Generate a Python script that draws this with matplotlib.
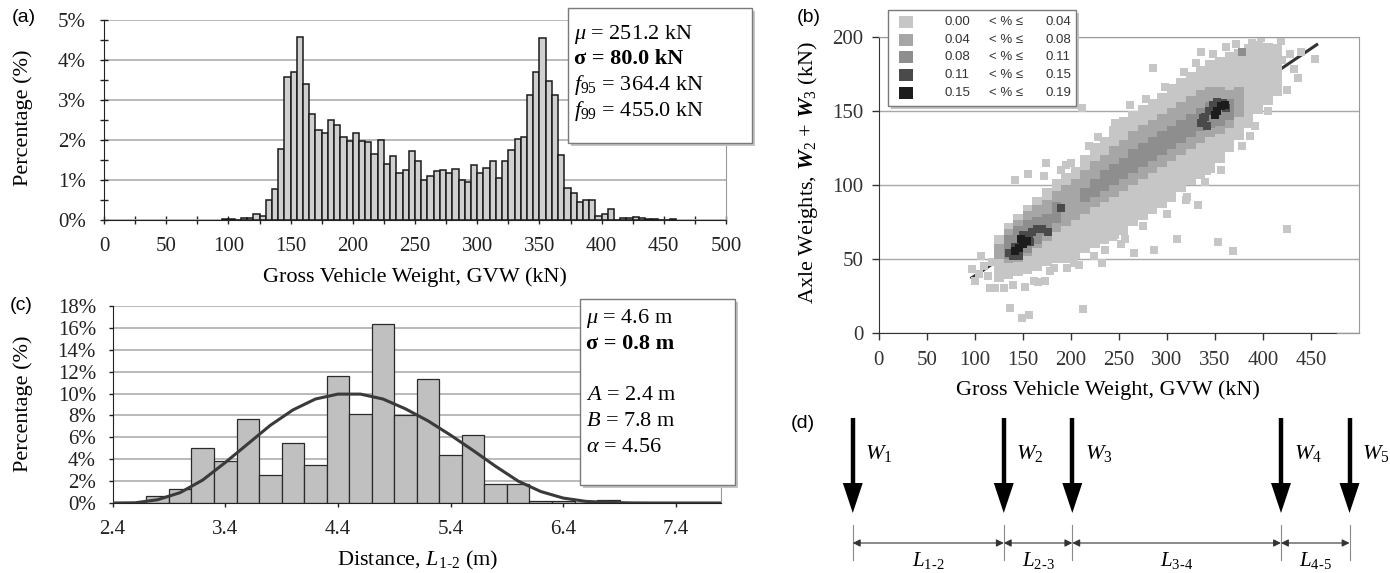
import numpy as np
import matplotlib
matplotlib.use("Agg")
import matplotlib.pyplot as plt
from matplotlib.patches import Rectangle, Polygon
from matplotlib.ticker import MultipleLocator, FuncFormatter

plt.rcParams['font.family'] = ['Liberation Serif', 'DejaVu Serif']
plt.rcParams['mathtext.fontset'] = 'custom'
plt.rcParams['mathtext.rm'] = 'Liberation Serif'
plt.rcParams['mathtext.it'] = 'Liberation Serif:italic'
plt.rcParams['mathtext.bf'] = 'Liberation Serif:bold'
plt.rcParams['mathtext.bfit'] = 'Liberation Serif:bold:italic'

# ---- (a) GVW histogram, 5 kN bins (left edges), % of trucks
gvw_left = list(range(95, 460, 5))
gvw_pct = [0.02, 0.02, 0.0, 0.04, 0.04, 0.14, 0.11, 0.50, 0.78, 1.78,
           3.58, 3.71, 4.57, 3.41, 2.66, 2.25, 2.18, 2.51, 2.37, 2.08,
           1.97, 2.18, 1.98, 1.96, 1.64, 2.01, 1.41, 1.61, 1.17, 1.26,
           1.73, 1.48, 1.00, 1.10, 1.22, 1.24, 1.17, 1.27, 1.00, 0.96,
           1.38, 1.18, 1.31, 1.48, 1.05, 1.48, 1.76, 2.03, 2.08, 3.13,
           3.71, 4.55, 3.47, 3.12, 1.62, 0.80, 0.68, 0.45, 0.51, 0.51,
           0.11, 0.15, 0.27, 0.0, 0.04, 0.06, 0.08, 0.06, 0.025, 0.025,
           0.0, 0.0, 0.015]
gvw_stats = [r'$\mathit{μ}$ = 251.2 kN', 'σ = 80.0 kN',
             r'$\mathit{f}_{\mathit{95}}$ = 364.4 kN', r'$\mathit{f}_{\mathit{99}}$ = 455.0 kN']

# ---- (c) axle spacing L1-2 histogram, 0.2 m bins (centres)
l12_mid = [2.8, 3.0, 3.2, 3.4, 3.6, 3.8, 4.0, 4.2, 4.4, 4.6, 4.8, 5.0,
           5.2, 5.4, 5.6, 5.8, 6.0, 6.2, 6.4, 6.6, 6.8]
l12_pct = [0.6, 1.3, 5.0, 3.85, 7.7, 2.6, 5.5, 3.45, 11.6, 8.1, 16.4, 8.0,
           11.3, 4.4, 6.2, 1.7, 1.7, 0.2, 0.2, 0.0, 0.25]
fit_x = [2.4, 2.6, 2.8, 3.0, 3.2, 3.4, 3.6, 3.8, 4.0, 4.2, 4.4, 4.6, 4.8,
         5.0, 5.2, 5.4, 5.6, 5.8, 6.0, 6.2, 6.4, 6.6, 6.8, 7.0, 7.2, 7.4, 7.6, 7.8]
fit_y = [0.0, 0.02, 0.3, 0.95, 2.1, 3.7, 5.4, 7.1, 8.5, 9.5, 9.95, 9.95, 9.5,
         8.6, 7.5, 6.2, 4.8, 3.35, 2.0, 1.05, 0.45, 0.15, 0.05, 0.01, 0.0, 0.0, 0.0, 0.0]
l12_stats = [r'$\mathit{μ}$ = 4.6 m', 'σ = 0.8 m', '', r'$\mathit{A}$ = 2.4 m',
             r'$\mathit{B}$ = 7.8 m', r'$\mathit{α}$ = 4.56']

# ---- (b) GVW vs W2+W3 density map
band_x = list(range(125, 420, 10))
light_lo = [34, 36, 38, 40, 42, 45, 47, 47, 50, 54, 57, 60, 63, 66, 72,
            76, 80, 84, 88, 95, 100, 104, 108, 115, 122, 130, 138, 148, 154, 160]
light_hi = [66, 74, 80, 86, 92, 98, 104, 108, 112, 120, 128, 132, 140, 146, 150,
            154, 158, 162, 168, 172, 176, 180, 184, 186, 190, 192, 195, 197, 196, 195]
mid1_x = list(range(125, 380, 10))
mid1_lo = [50, 47, 48, 52, 57, 62, 68, 72, 76, 80, 85, 88, 92, 96, 100, 104, 108,
           112, 116, 120, 124, 128, 132, 134, 138, 146]
mid1_hi = [60, 70, 76, 82, 86, 90, 96, 100, 104, 110, 116, 120, 126, 130, 136, 140, 144,
           148, 152, 156, 160, 164, 166, 166, 164, 166]
mid2_x = list(range(135, 370, 10))
mid2_lo = [50, 50, 54, 60, 66, 74, np.nan, np.nan, 88, 92, 96, 100, 104, 108, 112, 116,
           120, 124, 128, 132, 136, 138, 140, 144]
mid2_hi = [66, 72, 76, 78, 80, 88, np.nan, np.nan, 98, 104, 110, 114, 118, 124, 128, 132,
           136, 140, 144, 148, 152, 156, 158, 158]
dark_gvw = [136, 140, 144, 148, 152, 156, 160, 165, 170, 176, 142, 150, 158, 146, 190,
            336, 340, 344, 348, 352, 358, 362, 342, 338]
dark_axle = [54, 52, 56, 60, 63, 66, 68, 70, 70, 68, 58, 66, 61, 52, 84,
             142, 146, 150, 154, 156, 155, 152, 140, 145]
black_gvw = [142, 146, 150, 154, 148, 352, 356, 360, 350]
black_axle = [55, 57, 60, 62, 63, 150, 153, 154, 147]
out_gvw = [97, 100, 107, 116, 121, 137, 149, 156, 142, 155, 174, 172, 195, 212, 213,
           219, 232, 244, 256, 266, 287, 311, 332, 353, 369, 425, 286, 335, 389, 419,
           454, 436, 425, 407, 342, 321, 301, 285, 360, 387, 166, 173, 182, 196, 203,
           224, 152, 162, 110, 104, 118, 114, 130, 140, 178, 208, 236, 252, 275, 300,
           320, 340, 356, 378, 392, 405, 190, 200, 228, 246, 262, 278, 298, 318, 330,
           348, 362, 372, 398, 412, 428, 432, 420, 440, 415]
out_axle = [43, 35, 52, 30, 30, 17, 10, 12, 103, 107, 115, 106, 113, 152, 16,
            126, 47, 65, 63, 54, 56, 63, 86, 61, 55, 70, 179, 190, 196, 197,
            185, 172, 164, 171, 109, 92, 98, 108, 126, 133, 34, 35, 44, 44, 47,
            52, 31, 35, 45, 40, 48, 38, 30, 32, 42, 46, 56, 60, 72, 80,
            90, 102, 110, 126, 140, 150, 110, 115, 132, 142, 154, 158, 166, 176, 182,
            188, 193, 195, 199, 190, 188, 178, 184, 190, 176]
trend_gvw = [97, 456]
trend_axle = [37.1, 194.6]
shade = ['#c6c6c6', '#a6a6a6', '#8e8e8e', '#4a4a4a', '#1c1c1c']
shade_lo = ['0.00', '0.04', '0.08', '0.11', '0.15']
shade_hi = ['0.04', '0.08', '0.11', '0.15', '0.19']

# ---- (d) axle layout (schematic positions)
axle_pos = [0.0, 5.0, 7.27, 14.18, 16.45]
axle_lab = [r'$\mathit{W}_{\mathit{1}}$', r'$\mathit{W}_{\mathit{2}}$', r'$\mathit{W}_{\mathit{3}}$',
            r'$\mathit{W}_{\mathit{4}}$', r'$\mathit{W}_{\mathit{5}}$']
span_lab = [r'$\mathit{L}_{\mathit{1‐2}}$', r'$\mathit{L}_{\mathit{2‐3}}$',
            r'$\mathit{L}_{\mathit{3‐4}}$', r'$\mathit{L}_{\mathit{4‐5}}$']

W, H = 1390, 573
fig = plt.figure(figsize=(W / 100, H / 100), dpi=100)


def fx(x):
    return x / W


def fy(y):
    return 1 - y / H


def rect(x0, y0, x1, y1):
    return [fx(x0), fy(y1), (x1 - x0) / W, (y1 - y0) / H]


def stat_box(x0, y0, x1, y1):
    fig.add_artist(Rectangle((fx(x0 + 3), fy(y1 + 3)), (x1 - x0) / W, (y1 - y0) / H,
                             transform=fig.transFigure, fc='#c4c4c4', ec='none', zorder=9))
    fig.add_artist(Rectangle((fx(x0), fy(y1)), (x1 - x0) / W, (y1 - y0) / H,
                             transform=fig.transFigure, fc='white', ec='#7a7a7a', lw=1, zorder=10))


pct_fmt = FuncFormatter(lambda v, p: f'{v:.0f}%')
FS = 15

# (a)
ax = fig.add_axes(rect(104, 20, 726, 220))
ax.bar(gvw_left, gvw_pct, width=5, align='edge', color='#d0d0d0', edgecolor='#1a1a1a',
       linewidth=1.1, zorder=2)
ax.set_xlim(0, 500)
ax.set_ylim(0, 5)
ax.set_xticks(range(0, 501, 50))
ax.xaxis.set_minor_locator(MultipleLocator(25))
ax.set_yticks(range(0, 6))
ax.yaxis.set_minor_locator(MultipleLocator(0.5))
ax.yaxis.set_major_formatter(pct_fmt)
ax.grid(axis='y', color='#b4b4b4', lw=1.3, zorder=0)
ax.spines['top'].set_visible(False)
ax.spines['right'].set_color('#999999')
for s in ['left', 'bottom']:
    ax.spines[s].set_color('#222222')
ax.tick_params(which='both', direction='inout', length=6, width=1, colors='#222222')
ax.tick_params(axis='x', labelsize=FS, pad=9)
ax.tick_params(axis='y', labelsize=FS, pad=10)
fig.text(fx(23), fy(118), 'Percentage (%)', rotation=90, ha='center', va='center', fontsize=FS + 1)
fig.text(fx(415), fy(277), 'Gross Vehicle Weight, GVW (kN)', ha='center', va='center', fontsize=FS + 1)
stat_box(568, 8, 752, 143)
for i, t in enumerate(gvw_stats):
    fig.text(fx(574), fy([35, 59, 85, 111][i]), t, ha='left', va='center', fontsize=FS + 1,
             fontweight='bold' if t.startswith('σ') else 'normal', zorder=11)
fig.text(fx(12), fy(18), '(a)', family='Liberation Sans', fontsize=14, va='center')

# (c)
axc = fig.add_axes(rect(112.6, 306, 721, 503))
axc.bar(l12_mid, l12_pct, width=0.2, color='#c0c0c0', edgecolor='#2a2a2a', linewidth=0.9, zorder=2)
axc.plot(fit_x, fit_y, color='#3a3a3a', lw=2.2, zorder=3)
axc.set_xlim(2.4, 7.8)
axc.set_ylim(0, 18)
axc.set_xticks([2.4, 3.4, 4.4, 5.4, 6.4, 7.4])
axc.set_yticks(range(0, 19, 2))
axc.yaxis.set_major_formatter(pct_fmt)
axc.grid(axis='y', color='#b4b4b4', lw=1.3, zorder=0)
axc.spines['top'].set_visible(False)
axc.spines['right'].set_color('#999999')
for s in ['left', 'bottom']:
    axc.spines[s].set_color('#222222')
axc.tick_params(direction='out', length=3, width=1, colors='#222222')
axc.tick_params(axis='x', labelsize=FS, pad=9)
axc.tick_params(axis='y', labelsize=FS, pad=9)
fig.text(fx(23), fy(404), 'Percentage (%)', rotation=90, ha='center', va='center', fontsize=FS + 1)
fig.text(fx(418), fy(560), r'Distance, $\mathit{L}_{\mathit{1‐2}}$ (m)', ha='center', va='center',
         fontsize=FS + 1)
stat_box(580, 299, 735, 485)
for i, t in enumerate(l12_stats):
    fig.text(fx(586), fy([318, 344, 370, 396, 422, 448][i]), t, ha='left', va='center',
             fontsize=FS + 1, fontweight='bold' if t.startswith('σ') else 'normal', zorder=11)
fig.text(fx(10), fy(306), '(c)', family='Liberation Sans', fontsize=14, va='center')

# (b)
axb = fig.add_axes(rect(878.7, 36.7, 1359, 332.7))
axb.set_xlim(0, 500)
axb.set_ylim(0, 200)
axb.plot(trend_gvw, trend_axle, color='#333333', lw=2.2, zorder=1)
axb.bar(band_x, np.subtract(light_hi, light_lo), bottom=light_lo, width=10, color=shade[0], lw=0, zorder=2)
axb.scatter(out_gvw, out_axle, marker='s', s=37, color=shade[0], lw=0, zorder=2)
axb.bar(mid1_x, np.subtract(mid1_hi, mid1_lo), bottom=mid1_lo, width=10, color=shade[1], lw=0, zorder=3)
axb.bar(mid2_x, np.subtract(mid2_hi, mid2_lo), bottom=mid2_lo, width=10, color=shade[2], lw=0, zorder=4)
axb.scatter([378], [190], marker='s', s=37, color=shade[2], lw=0, zorder=4)
axb.scatter(dark_gvw, dark_axle, marker='s', s=37, color=shade[3], lw=0, zorder=5)
axb.scatter(black_gvw, black_axle, marker='s', s=37, color=shade[4], lw=0, zorder=6)
axb.set_xticks(range(0, 451, 50))
axb.set_yticks(range(0, 201, 50))
axb.grid(axis='y', color='#a8a8a8', lw=1, zorder=0)
axb.set_axisbelow(True)
for s in ['top', 'right']:
    axb.spines[s].set_color('#9a9a9a')
axb.spines['left'].set_color('#333333')
axb.spines['bottom'].set_color('#333333')
axb.spines['bottom'].set_bounds(0, 477)
axb.plot([477, 500], [0, 0], color='#9a9a9a', lw=1, clip_on=False, zorder=7)
axb.tick_params(direction='out', length=5, width=1, colors='#333333', labelsize=FS)
axb.tick_params(axis='x', pad=8)
axb.tick_params(axis='y', pad=6)
fig.text(fx(808), fy(173), r'Axle Weights, $\mathbfit{W}_{2}$ + $\mathbfit{W}_{3}$ (kN)', rotation=90,
         ha='center', va='center', fontsize=FS + 1)
fig.text(fx(1108), fy(390), 'Gross Vehicle Weight, GVW (kN)', ha='center', va='center', fontsize=FS + 1)
fig.text(fx(797), fy(18), '(b)', family='Liberation Sans', fontsize=14, va='center')
stat_box(888, 10, 1076, 106)
for i in range(5):
    yy = [22.3, 40, 57.3, 75, 92.7][i]
    fig.add_artist(Rectangle((fx(899), fy(yy + 6)), 14 / W, 12 / H, transform=fig.transFigure,
                             fc=shade[i], ec='none', zorder=11))
    for xx, t in [(957, shade_lo[i]), (1006, '< % ≤'), (1058, shade_hi[i])]:
        fig.text(fx(xx), fy(yy), t, family='Liberation Sans', fontsize=9.5, color='#333333',
                 ha='center', va='center', zorder=12)

# (d)
axd = fig.add_axes(rect(780, 393, 1390, 573))
axd.set_xlim(-2.41, 17.79)
axd.set_ylim(573, 393)
axd.axis('off')
for i, x in enumerate(axle_pos):
    axd.plot([x, x], [418, 486], color='black', lw=3.2, solid_capstyle='butt')
    axd.add_patch(Polygon([[x - 0.33, 483], [x + 0.33, 483], [x, 513]], closed=True,
                          fc='black', ec='none'))
    axd.plot([x, x], [525, 560], color='#8a8a8a', lw=0.8)
    axd.text(x + 0.42, 453, axle_lab[i], ha='left', va='center', fontsize=FS + 1, clip_on=False)
for i in range(4):
    a, b = axle_pos[i], axle_pos[i + 1]
    axd.annotate('', xy=(a, 543), xytext=(b, 543),
                 arrowprops=dict(arrowstyle='<|-|>', color='#333333', lw=0.8,
                                 mutation_scale=11, shrinkA=0, shrinkB=0))
    axd.text((a + b) / 2, 571, span_lab[i], ha='center', va='bottom', fontsize=FS, clip_on=False)
fig.text(fx(791), fy(423), '(d)', family='Liberation Sans', fontsize=14, va='center')

fig.savefig('out.png', dpi=100)
